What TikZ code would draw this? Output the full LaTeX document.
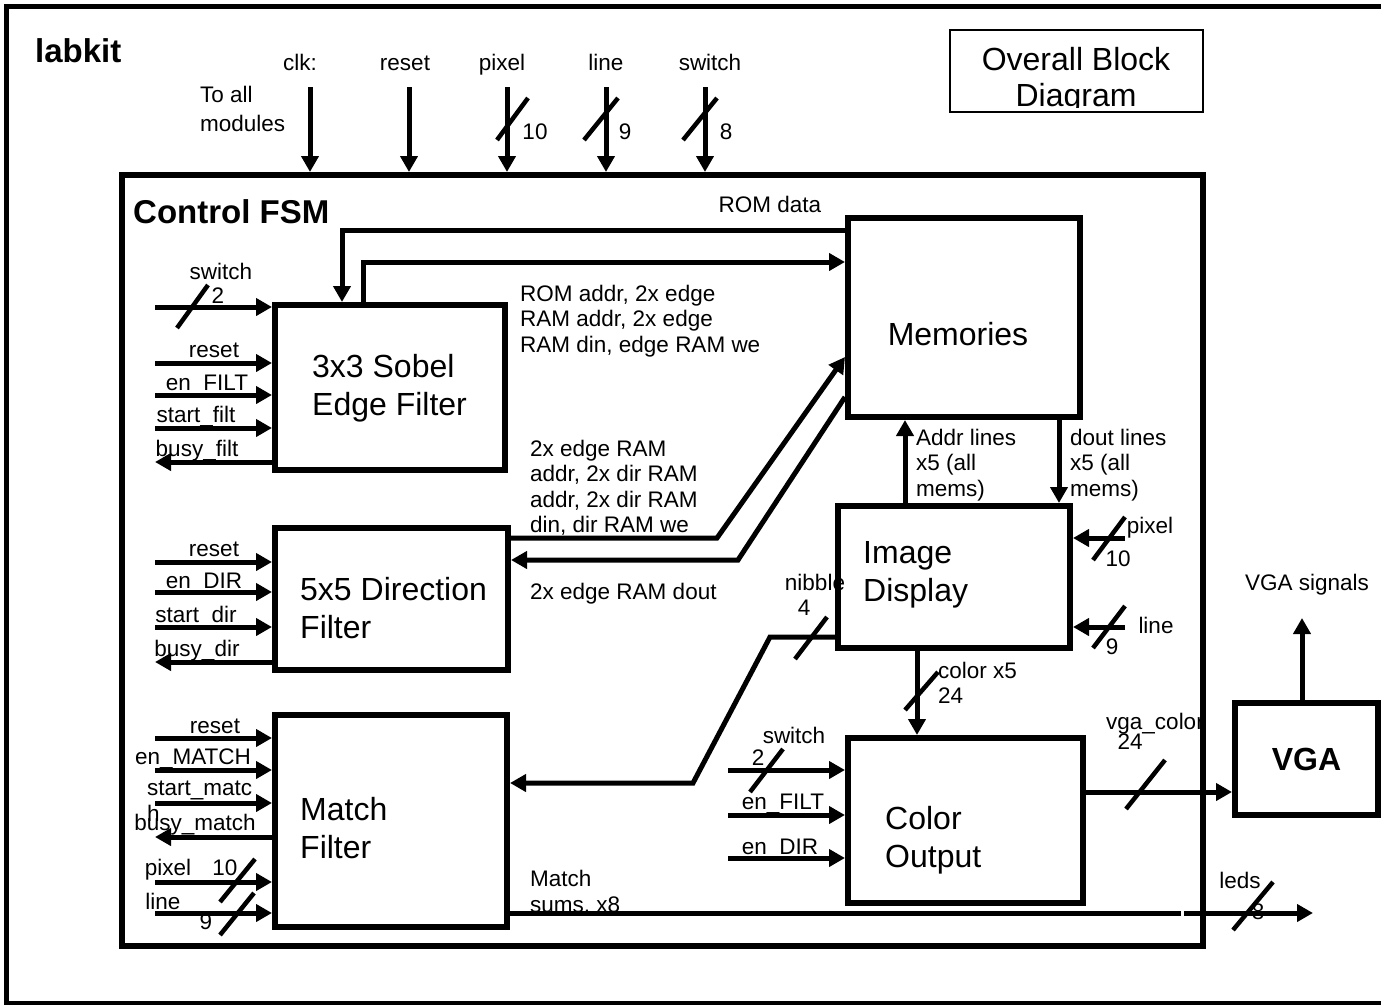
\documentclass[tikz,border=0pt]{standalone}
\usepackage{fontspec}
\setmainfont{Liberation Sans}
\usetikzlibrary{arrows.meta}

\newcommand{\lblfont}{\fontsize{22.5}{25.5}\selectfont}
\newcommand{\boxfont}{\fontsize{32}{38}\selectfont}
\newcommand{\headfont}{\fontsize{33}{36}\selectfont\bfseries}

\tikzset{
  blk/.style={draw, line width=6pt, inner sep=0pt},
  sig/.style={line width=5pt, -{Triangle[length=16pt,width=17pt]}},
  wire/.style={line width=5pt},
  slash/.style={line width=4.5pt},
  lbls/.style={font=\lblfont, inner sep=0pt},
  lbl/.style={lbls, text height=16pt, text depth=5pt},
  btxt/.style={font=\boxfont, align=left, inner sep=0pt},
}

\begin{document}
\begin{tikzpicture}[x=1pt,y=-1pt]
\useasboundingbox (0,0) rectangle (1381,1004);

% labkit frame and title
\draw[line width=5pt] (6,6) rectangle (1420,1003);
\node[font=\headfont, anchor=west, inner sep=0pt] (labkit) at (35,51) {labkit};
\node[draw, line width=1.5pt, minimum width=253pt, minimum height=82pt, inner sep=0pt] (title) at (1076.5,71) {};
\begin{scope}
  \clip (950,30) rectangle (1203,107);
  \node[font=\fontsize{32}{36}\selectfont, align=center, anchor=north, inner sep=0pt] (titletxt) at (1076,47) {Overall Block\\Diagram};
\end{scope}

% blocks
\node[blk, minimum width=1081pt, minimum height=771pt] (fsm) at (662.5,560.5) {};
\node[font=\headfont, anchor=west, inner sep=0pt] (fsmlbl) at (133,212) {Control FSM};

\node[blk, minimum width=230pt, minimum height=165pt] (sobel) at (390,387.5) {};
\node[btxt, anchor=west] (sobeltxt) at (312,388) {3x3 Sobel\\Edge Filter};
\node[blk, minimum width=233pt, minimum height=142pt] (dirf) at (391.5,599) {};
\node[btxt, anchor=west] (dirftxt) at (300,608) {5x5 Direction\\Filter};
\node[blk, minimum width=232pt, minimum height=212pt] (match) at (391,821) {};
\node[btxt, anchor=west] (matchtxt) at (300,828) {Match\\Filter};
\node[blk, minimum width=232pt, minimum height=199pt] (mem) at (964,317.5) {};
\node[btxt] (memtxt) at (958,334) {Memories};
\node[blk, minimum width=232pt, minimum height=142pt] (img) at (954,577) {};
\node[btxt, anchor=west] (imgtxt) at (863,575) {Image\\Display};
\node[blk, minimum width=235pt, minimum height=165pt] (cout) at (965.5,820.5) {};
\node[btxt, anchor=west] (couttxt) at (885,840) {Color\\Output};
\node[blk, minimum width=143pt, minimum height=112pt, font=\fontsize{32}{38}\selectfont\bfseries] (vga) at (1306.5,759) {VGA};

% inputs from the top
\foreach \x/\nm in {310/clk, 409/rst, 507/pix, 606/lin, 705/sw} {
  \coordinate (\nm) at (\x,87);
  \draw[sig] (\nm) -- (\nm |- fsm.north);
}
\node[lbl] (clklbl) at (300,65) {clk:};
\node[lbl] (rstlbl) at (405,65) {reset};
\node[lbl] (pixlbl) at (502,65) {pixel};
\node[lbl] (linlbl) at (606,65) {line};
\node[lbl] (swlbl) at (710,65) {switch};
\node[lbls, align=left, anchor=west, font=\fontsize{22.5}{29}\selectfont] (alllbl) at (200,109) {To all\\modules};
\draw[slash] (497,140) -- (528,98);
\draw[slash] (584,140) -- (618,98);
\draw[slash] (683,140) -- (717,98);
\node[lbl] at (535,134) {10};
\node[lbl] at (625,134) {9};
\node[lbl] at (726,134) {8};

% sobel filter signals
\foreach \y in {307,363,395,428} {
  \coordinate (sin) at (155,\y);
  \draw[sig] (sin) -- (sin -| sobel.west);
}
\coordinate (sbusy) at (155,462);
\draw[sig] (sbusy -| sobel.west) -- (sbusy);
\draw[slash] (177,328) -- (208,285);
\node[lbl] at (221,274) {switch};
\node[lbl] at (218,298) {2};
\node[lbl] at (214,352) {reset};
\node[lbl] at (207,385) {en\_FILT};
\node[lbl] at (196,417) {start\_filt};
\node[lbl] at (197,451) {busy\_filt};

% direction filter signals
\foreach \y in {562,592,627} {
  \coordinate (din) at (155,\y);
  \draw[sig] (din) -- (din -| dirf.west);
}
\coordinate (dbusy) at (155,662);
\draw[sig] (dbusy -| dirf.west) -- (dbusy);
\node[lbl] at (214,551) {reset};
\node[lbl] at (204,583) {en\_DIR};
\node[lbl] at (196,617) {start\_dir};
\node[lbl] at (197,651) {busy\_dir};

% match filter signals
\foreach \y in {738,770,803,882,913} {
  \coordinate (min) at (155,\y);
  \draw[sig] (min) -- (min -| match.west);
}
\coordinate (mbusy) at (155,837);
\draw[sig] (mbusy -| match.west) -- (mbusy);
\node[lbl] at (215,728) {reset};
\node[lbl] at (193,759) {en\_MATCH};
\node[lbls, align=left, anchor=north west] at (147,781) {start\_matc\\h};
\node[lbl] at (195,825) {busy\_match};
\node[lbl] at (168,870) {pixel};
\node[lbl] at (225,870) {10};
\node[lbl] at (163,904) {line};
\node[lbl] at (206,924) {9};
\draw[slash] (220,902) -- (255,859);
\draw[slash] (220,935) -- (254,893);

% sobel <-> memories
\coordinate (romd) at (342,230);
\coordinate (roma) at (363,262);
\draw[sig] (mem.west |- romd) -| (sobel.north -| romd);
\draw[sig] (sobel.north -| roma) |- (mem.west |- roma);
\node[lbl] at (770,207) {ROM data};
\node[lbls, align=left, anchor=west] at (520,321) {ROM addr, 2x edge\\RAM addr, 2x edge\\RAM din, edge RAM we};

% direction <-> memories
\coordinate (dwbend) at (717,538);
\coordinate (upbend) at (738,560);
\draw[sig] (dirf.east |- dwbend) -- (dwbend) -- (mem.west |- 0,357);
\draw[sig] (mem.west |- 0,397) -- (upbend) -- (dirf.east |- upbend);
\node[lbls, align=left, anchor=west] at (530,488) {2x edge RAM\\addr, 2x dir RAM\\addr, 2x dir RAM\\din, dir RAM we};
\node[lbl, anchor=west] at (530,594) {2x edge RAM dout};

% image display <-> memories
\coordinate (addrx) at (905,0);
\coordinate (doutx) at (1059,0);
\draw[sig] (img.north -| addrx) -- (mem.south -| addrx);
\draw[sig] (mem.south -| doutx) -- (img.north -| doutx);
\node[lbls, align=left, anchor=west] at (916,465) {Addr lines\\x5 (all\\mems)};
\node[lbls, align=left, anchor=west] at (1070,465) {dout lines\\x5 (all\\mems)};

% image display inputs
\coordinate (ipix) at (1125,538);
\coordinate (ilin) at (1125,627);
\draw[sig] (ipix) -- (ipix -| img.east);
\draw[sig] (ilin) -- (ilin -| img.east);
\draw[slash] (1093,560) -- (1125,517);
\draw[slash] (1093,648) -- (1125,606);
\node[lbl] at (1150,528) {pixel};
\node[lbl] at (1118,561) {10};
\node[lbl] at (1156,628) {line};
\node[lbl] at (1112,649) {9};

% nibble to match filter
\coordinate (nb1) at (770,637);
\coordinate (nb2) at (693,783);
\draw[sig] (img.west |- nb1) -- (nb1) -- (nb2) -- (match.east |- nb2);
\draw[slash] (795,659) -- (827,617);
\node[lbl] at (815,585) {nibble};
\node[lbl] at (804,610) {4};

% image display -> color output
\coordinate (colx) at (917,0);
\draw[sig] (img.south -| colx) -- (cout.north -| colx);
\draw[slash] (905,710) -- (938,672);
\node[lbls, align=left, anchor=west, font=\fontsize{22.5}{25}\selectfont] at (938,683) {color x5\\24};

% color output inputs
\foreach \y in {770,815,858} {
  \coordinate (cin) at (728,\y);
  \draw[sig] (cin) -- (cin -| cout.west);
}
\draw[slash] (750,792) -- (783,749);
\node[lbl] at (794,738) {switch};
\node[lbl] at (758,760) {2};
\node[lbl] at (783,804) {en\_FILT};
\node[lbl] at (780,849) {en\_DIR};

% vga
\coordinate (vgaup) at (1302,618);
\coordinate (vgain) at (1235,792);
\draw[sig] (vga.north -| vgaup) -- (vgaup);
\node[lbl] at (1307,585) {VGA signals};
\draw[sig] (cout.east |- vgain) -- (vgain -| vga.west);
\draw[slash] (1126,809) -- (1165,760);
\node[lbl, anchor=west] at (1106,724) {vga\_color};
\node[lbl] at (1130,744) {24};

% match sums to leds
\node[lbls, align=left, anchor=west] at (530,893) {Match\\sums, x8};
\node[lbl] at (1258,914) {8};
\coordinate (gapl) at (1181,913);
\coordinate (gapr) at (1184,913);
\coordinate (leds) at (1313,913);
\draw[wire] (match.east |- gapl) -- (gapl);
\draw[sig] (gapr) -- (leds);
\draw[slash] (1233,930) -- (1273,882);
\node[lbl] at (1240,883) {leds};
\end{tikzpicture}
\end{document}
